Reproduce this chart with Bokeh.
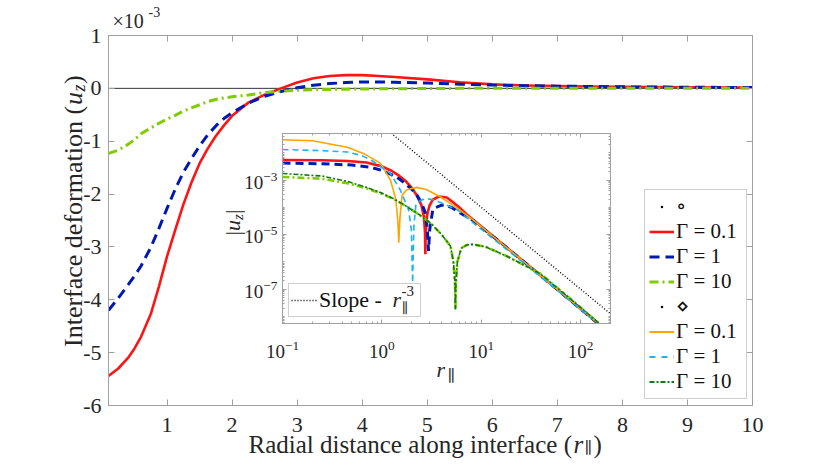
import math
from bokeh.plotting import figure
from bokeh.models import (Range1d, LinearAxis, LogAxis, FixedTicker, Legend, LegendItem,
                          Label, Span, GridBox, CustomJSTickFormatter)
from bokeh.embed import file_html
from bokeh.resources import INLINE

NAN = float("nan")

# ---------------- main panel data (u_z in units of 1e-3) ----------------
r_main = [0.1, 0.25, 0.4, 0.5, 0.6, 0.75, 0.875, 1.0, 1.125, 1.25, 1.375, 1.5, 1.625,
          1.75, 1.875, 2.0, 2.25, 2.5, 2.75, 3.0, 3.25, 3.5, 3.75, 4.0, 4.25, 4.5,
          5.0, 5.5, 6.0, 6.5, 7.0, 7.5, 8.0, 9.0, 10.0]
uz_gamma01 = [-5.44, -5.30, -5.10, -4.92, -4.70, -4.27, -3.75, -3.18, -2.68, -2.20, -1.78,
              -1.42, -1.14, -0.90, -0.70, -0.52, -0.27, -0.12, 0.00, 0.11, 0.19, 0.235,
              0.25, 0.25, 0.235, 0.215, 0.17, 0.115, 0.075, 0.055, 0.042, 0.035, 0.029,
              0.021, 0.015]
uz_gamma1 = [-4.20, -3.97, -3.72, -3.55, -3.36, -3.01, -2.65, -2.27, -1.91, -1.59, -1.33,
             -1.09, -0.88, -0.71, -0.57, -0.46, -0.28, -0.15, -0.06, 0.01, 0.06, 0.09,
             0.11, 0.12, 0.12, 0.115, 0.10, 0.08, 0.062, 0.05, 0.042, 0.035, 0.029,
             0.021, 0.015]
uz_gamma10 = [-1.23, -1.17, -1.06, -0.97, -0.86, -0.75, -0.66, -0.58, -0.51, -0.43, -0.37,
              -0.31, -0.25, -0.21, -0.18, -0.16, -0.125, -0.08, -0.055, -0.035, -0.025,
              -0.02, -0.015, -0.012, -0.009, -0.007, -0.003, 0.0, 0.002, 0.003, 0.004,
              0.004, 0.004, 0.003, 0.003]

x_ticks = [1, 2, 3, 4, 5, 6, 7, 8, 9, 10]
x_tick_labels = ["1", "2", "3", "4", "5", "6", "7", "8", "9", "10"]
y_ticks = [-6, -5, -4, -3, -2, -1, 0, 1]
y_tick_labels = ["-6", "-5", "-4", "-3", "-2", "-1", "0", "1"]

# ---------------- inset data (|u_z|) ----------------
# circle set (same cases as main panel)
r_in_g01 = [0.1, 0.25, 0.45, 0.7, 1.0, 1.25, 1.5, 1.75, 2.0, 2.25, 2.5, 2.65, 2.72, 2.74,
            2.76, 2.85, 3.0, 3.25, 3.75, 4.5, 5.25, 6.2, 7.2, 8.3, 15.8, 31.6, 79.4, 200]
u_in_g01 = [5.44e-3, 5.3e-3, 5.0e-3, 4.42e-3, 3.18e-3, 2.2e-3, 1.42e-3, 9.0e-4, 5.2e-4,
            2.7e-4, 1.2e-4, 4.5e-5, 1.2e-5, 1.9e-6, 1.2e-5, 5.0e-5, 1.1e-4, 1.9e-4, 2.5e-4,
            2.3e-4, 1.5e-4, 9.0e-5, 5.4e-5, 3.5e-5, 5.0e-6, 6.2e-7, 3.8e-8, 2.3e-9]
r_in_g1 = [0.1, 0.25, 0.5, 0.75, 1.0, 1.25, 1.5, 1.75, 2.0, 2.25, 2.5, 2.75, 2.87, 2.95,
           3.03, 3.25, 3.5, 4.0, 4.5, 5.0, 6.0, 7.2, 8.3, 15.8, 31.6, 79.4, 200]
u_in_g1 = [4.2e-3, 3.97e-3, 3.55e-3, 3.01e-3, 2.27e-3, 1.59e-3, 1.09e-3, 7.1e-4, 4.6e-4,
           2.8e-4, 1.5e-4, 6.0e-5, 1.5e-5, 2.5e-6, 1.5e-5, 8.0e-5, 1.0e-4, 1.2e-4, 1.15e-4,
           1.0e-4, 6.5e-5, 4.5e-5, 3.3e-5, 5.0e-6, 6.2e-7, 3.8e-8, 2.3e-9]
r_in_g10 = [0.1, 0.25, 0.45, 0.7, 0.97, 1.32, 1.78, 2.34, 3.07, 4.0, 4.9, 5.25, 5.45, 5.5,
            5.55, 5.75, 6.3, 7.2, 8.3, 11.2, 18.2, 38.9, 85.1, 200]
u_in_g10 = [1.3e-3, 1.12e-3, 7.6e-4, 5.0e-4, 3.3e-4, 2.0e-4, 1.07e-4, 5.6e-5, 2.7e-5,
            1.0e-5, 3.8e-6, 1.0e-6, 1.5e-7, 1.8e-8, 1.5e-7, 1.0e-6, 3.2e-6, 4.2e-6, 4.4e-6,
            3.5e-6, 1.6e-6, 3.8e-7, 3.5e-8, 2.4e-9]
# diamond set
r_d_g01 = [0.1, 0.2, 0.3, 0.45, 0.66, 0.97, 1.22, 1.38, 1.45, 1.48, 1.52, 1.6, 1.78, 2.24,
           2.8, 3.9, 5.6, 8.3, 15.8, 31.6, 79.4, 200]
u_d_g01 = [3.0e-2, 2.75e-2, 2.1e-2, 1.6e-2, 9.3e-3, 4.1e-3, 1.0e-3, 2.0e-4, 3.0e-5, 5.0e-6,
           4.0e-5, 2.8e-4, 4.4e-4, 5.4e-4, 4.5e-4, 2.4e-4, 1.0e-4, 3.5e-5, 5.0e-6, 6.2e-7,
           3.8e-8, 2.3e-9]
r_d_g1 = [0.1, 0.25, 0.45, 0.63, 0.83, 1.22, 1.53, 1.86, 1.98, 2.04, 2.1, 2.2, 2.44, 2.8,
          3.3, 3.9, 5.75, 8.3, 15.8, 31.6, 79.4, 200]
u_d_g1 = [1.32e-2, 1.2e-2, 1.07e-2, 7.9e-3, 4.7e-3, 1.74e-3, 4.4e-4, 8.1e-5, 1.5e-5, 1.7e-7,
          2.0e-5, 1.2e-4, 1.8e-4, 2.1e-4, 1.9e-4, 1.5e-4, 8.1e-5, 2.7e-5, 4.2e-6, 5.6e-7,
          3.6e-8, 2.3e-9]
r_d_g10 = [0.1, 0.25, 0.45, 0.7, 0.97, 1.32, 1.78, 2.34, 3.07, 4.0, 4.9, 5.25, 5.45, 5.5,
           5.55, 5.75, 6.3, 7.2, 8.3, 11.2, 18.2, 38.9, 85.1, 200]
u_d_g10 = [1.74e-3, 1.41e-3, 8.9e-4, 5.4e-4, 3.5e-4, 2.05e-4, 1.07e-4, 5.6e-5, 2.7e-5,
           1.0e-5, 3.8e-6, 1.0e-6, 1.5e-7, 1.8e-8, 1.5e-7, 1.0e-6, 3.2e-6, 4.2e-6, 4.4e-6,
           3.5e-6, 1.6e-6, 3.8e-7, 3.5e-8, 2.4e-9]
# reference slope r^-3
r_slope = [1.0, 200.0]
u_slope = [1.0e-1, 1.25e-8]

in_x_ticks = [0.1, 1, 10, 100]
in_y_ticks = [1e-7, 1e-5, 1e-3]

# ---------------- styles ----------------
FONT = "'Liberation Serif', 'DejaVu Serif', serif"
GRAY = "#a0a0a0"
TXT = "#262626"
RED = "#ff1414"
BLUE = "#0019b3"
LGREEN = "#80cc00"
ORANGE = "#ffa500"
LBLUE = "#1cb3f0"
DGREEN = "#127a12"

W, H = 822, 459
DY = 8   # the overlay canvas sits this many pixels lower than the grid origin

blank = CustomJSTickFormatter(code="return ''")


def style_axis(ax, size, tick_in, standoff, minor_in=0):
    ax.axis_line_color = GRAY
    ax.axis_line_width = 1
    ax.major_tick_line_color = GRAY
    ax.minor_tick_line_color = GRAY
    ax.major_tick_in = tick_in
    ax.major_tick_out = 0
    ax.minor_tick_in = minor_in
    ax.minor_tick_out = 0
    ax.major_label_text_font = FONT
    ax.major_label_text_font_size = size
    ax.major_label_text_color = TXT
    ax.major_label_standoff = standoff


# ---------------- main figure ----------------
p = figure(width=W, height=H, x_range=Range1d(0.1, 10), y_range=Range1d(-6, 1),
           output_backend="svg", toolbar_location=None,
           min_border_left=108, min_border_right=70, min_border_top=35, min_border_bottom=54)
p.xgrid.visible = False
p.ygrid.visible = False
p.outline_line_color = GRAY
p.background_fill_color = "white"
p.border_fill_color = "white"

p.xaxis.ticker = FixedTicker(ticks=x_ticks)
p.xaxis.major_label_overrides = dict(zip(x_ticks, x_tick_labels))
p.yaxis.ticker = FixedTicker(ticks=y_ticks)
p.yaxis.major_label_overrides = dict(zip(y_ticks, y_tick_labels))
style_axis(p.xaxis[0], "22px", 6, 12)
style_axis(p.yaxis[0], "22px", 6, 7)
top_ax = LinearAxis(ticker=FixedTicker(ticks=x_ticks), formatter=blank)
right_ax = LinearAxis(ticker=FixedTicker(ticks=y_ticks), formatter=blank)
style_axis(top_ax, "1px", 6, 0)
style_axis(right_ax, "1px", 6, 0)
p.add_layout(top_ax, "above")
p.add_layout(right_ax, "right")

zero = Span(location=0, dimension="width", line_color="#333333", line_width=1, level="underlay")
p.add_layout(zero)

l_red = p.line(r_main, uz_gamma01, line_color=RED, line_width=2.6, line_join="round")
l_blue = p.line(r_main, uz_gamma1, line_color=BLUE, line_width=3, line_dash="10 6")
l_green = p.line(r_main, uz_gamma10, line_color=LGREEN, line_width=3, line_dash="9 4 2 4")

# legend-only proxies (a single NaN point, nothing is drawn in the frame)
h_circ = p.scatter([NAN], [NAN], marker="dot", size=10, color="black")
h_diam = p.scatter([NAN], [NAN], marker="dot", size=10, color="black")
k_or = p.line([NAN], [NAN], line_color=ORANGE, line_width=2)
k_lb = p.line([NAN], [NAN], line_color=LBLUE, line_width=2, line_dash="6 6")
k_dg = p.line([NAN], [NAN], line_color=DGREEN, line_width=2, line_dash="5 2 2 2")

legend = Legend(items=[
    LegendItem(label="\u2218", renderers=[h_circ]),
    LegendItem(label="\u0393 = 0.1", renderers=[l_red]),
    LegendItem(label="\u0393 = 1", renderers=[l_blue]),
    LegendItem(label="\u0393 = 10", renderers=[l_green]),
    LegendItem(label="\u22c4", renderers=[h_diam]),
    LegendItem(label="\u0393 = 0.1", renderers=[k_or]),
    LegendItem(label="\u0393 = 1", renderers=[k_lb]),
    LegendItem(label="\u0393 = 10", renderers=[k_dg]),
], location=(536, 6), border_line_color=GRAY, border_line_width=1,
    background_fill_color="white", background_fill_alpha=1.0,
    label_text_font=FONT, label_text_font_size="21px", label_text_color="#111111",
    glyph_width=25, glyph_height=25, label_height=25, label_width=66,
    spacing=0, padding=4, margin=0, label_standoff=2)
p.add_layout(legend)

# ---------------- inset figure ----------------
ins = figure(width=418, height=265, x_axis_type="log", y_axis_type="log",
             x_range=Range1d(0.1, 200), y_range=Range1d(5.5e-9, 5.1e-2),
             output_backend="svg", toolbar_location=None,
             min_border_left=80, min_border_right=10, min_border_top=5, min_border_bottom=70)
ins.xgrid.visible = False
ins.ygrid.visible = False
ins.border_fill_color = None
ins.background_fill_color = "white"
ins.outline_line_color = GRAY

in_x_minor = [k * 10.0 ** e for e in (-1, 0, 1, 2) for k in range(1, 10) if k * 10.0 ** e <= 200]
in_y_minor = [k * 10.0 ** e for e in range(-9, -1) for k in range(1, 10)
              if 5.5e-9 <= k * 10.0 ** e <= 5.1e-2]
ins.xaxis.ticker = FixedTicker(ticks=in_x_ticks, minor_ticks=in_x_minor)
ins.yaxis.ticker = FixedTicker(ticks=in_y_ticks, minor_ticks=in_y_minor)
style_axis(ins.xaxis[0], "19px", 4, 17, minor_in=2)
style_axis(ins.yaxis[0], "19px", 4, 5, minor_in=2)
itop = LogAxis(ticker=FixedTicker(ticks=in_x_ticks, minor_ticks=in_x_minor), formatter=blank)
iright = LogAxis(ticker=FixedTicker(ticks=in_y_ticks, minor_ticks=in_y_minor), formatter=blank)
style_axis(itop, "1px", 4, 0, minor_in=2)
style_axis(iright, "1px", 4, 0, minor_in=2)
ins.add_layout(itop, "above")
ins.add_layout(iright, "right")

ins.line(r_in_g01, u_in_g01, line_color=RED, line_width=2.6)
ins.line(r_in_g1, u_in_g1, line_color=BLUE, line_width=3, line_dash="8 5")
ins.line(r_in_g10, u_in_g10, line_color=LGREEN, line_width=2.6, line_dash="7 3 2 3")
ins.line(r_d_g01, u_d_g01, line_color=ORANGE, line_width=1.6)
ins.line(r_d_g1, u_d_g1, line_color=LBLUE, line_width=1.6, line_dash="6 4")
ins.line(r_d_g10, u_d_g10, line_color=DGREEN, line_width=1.6, line_dash="5 2 2 2")
s_line = ins.line(r_slope, u_slope, line_color="black", line_width=1.4, line_dash="1 2")

leg2 = Legend(items=[LegendItem(label="Slope -", renderers=[s_line])], location=(6, 6),
              border_line_color=GRAY, border_line_width=1, background_fill_color="white",
              background_fill_alpha=1.0, label_text_font=FONT, label_text_font_size="22px",
              label_text_color="#111111", glyph_width=26, glyph_height=28, label_height=28,
              label_width=99, spacing=0, padding=2, margin=0, label_standoff=2)
ins.add_layout(leg2)

# ---------------- transparent overlay for composed titles ----------------
ov = figure(width=W, height=H, x_range=Range1d(0, W), y_range=Range1d(0, H),
            x_axis_type=None, y_axis_type=None, title=None, min_border=0,
            min_border_left=0, min_border_right=0, min_border_top=0, min_border_bottom=0,
            output_backend="svg", toolbar_location=None)
ov.outline_line_color = None
ov.background_fill_color = None
ov.border_fill_color = None


def lab(x, y, text, size, italic=False, angle=0.0):
    # x, y: position from the top-left of the picture (baseline anchor)
    ov.add_layout(Label(x=x, y=H - (y - DY), text=text, text_font=FONT,
                        text_font_size=f"{size}px",
                        text_font_style="italic" if italic else "normal",
                        text_color=TXT, angle=angle, text_align="left",
                        text_baseline="alphabetic"))


ang = math.pi / 2
# main x title
lab(248, 452, "Radial distance along interface (", 25)
lab(573, 452, "r", 25, italic=True)
lab(584, 455, "\u2225", 16)
lab(593, 452, ")", 25)
# main y title
lab(73, 354.5, "Interface deformation (", 26, angle=ang)
lab(73, 112.5, "u", 26, italic=True, angle=ang)
lab(78, 99, "z", 18, italic=True, angle=ang)
lab(73, 91.5, ")", 26, angle=ang)
# exponent multiplier
lab(112, 28, "\u00d710", 20)
lab(148, 19, "-3", 14)
# inset legend math
lab(392, 307, "r", 22, italic=True)
lab(401, 298, "-3", 15)
lab(401, 316, "\u2225", 14)
# inset y title
lab(232, 243, "|", 22, angle=ang)
lab(232, 238.5, "u", 22, italic=True, angle=ang)
lab(237, 227.5, "z", 15, italic=True, angle=ang)
lab(232, 221.5, "|", 22, angle=ang)
# inset x title
lab(436, 377, "r", 22, italic=True)
lab(447, 383, "\u2225", 16)

# zero-size outer tracks keep the overlay from sharing grid edges with the main plot
grid = GridBox(children=[(p, 1, 1, 3, 3), (ins, 2, 2, 1, 1), (ov, 0, 0, 5, 5)],
               rows=["0px", "128px", "265px", "66px", "0px"],
               cols=["0px", "202px", "418px", "202px", "0px"], spacing=0)

open("out.html", "w").write(file_html(grid, INLINE))
